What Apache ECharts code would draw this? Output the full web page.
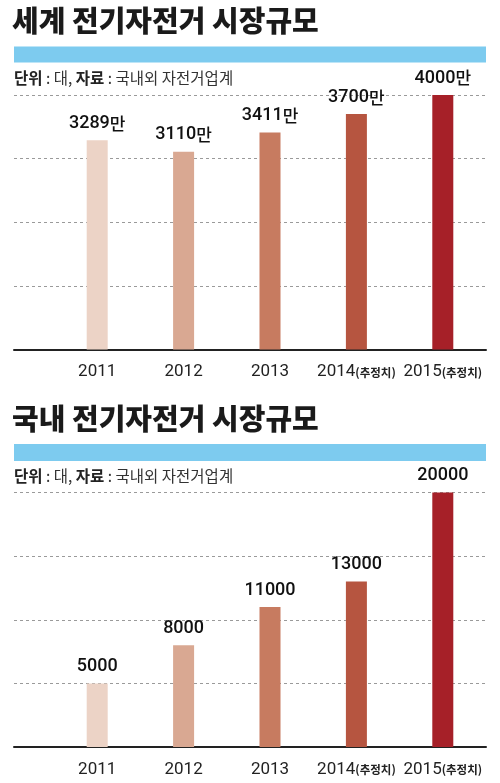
<!DOCTYPE html>
<html>
<head>
    <meta charset="utf-8">
    <title>전기자전거 시장규모</title>
    <script src="https://cdn.jsdelivr.net/npm/echarts@6/dist/echarts.min.js"></script>
    <style>
        html, body { margin: 0; padding: 0; background: #fff; }
        #chart { width: 500px; height: 783px; }
    </style>
</head>
<body>
<div id="chart"></div>
<script type="text/javascript">
    // 데이터
    var years = ['2011', '2012', '2013', '2014(추정치)', '2015(추정치)'];
    var worldValues = [3289, 3110, 3411, 3700, 4000];      // 단위: 만 대
    var koreaValues = [5000, 8000, 11000, 13000, 20000];   // 단위: 대
    var barColors = ['#ecd3c6', '#d9a892', '#c77b60', '#b65540', '#a62028'];
    var worldAxis = { max: 4000, interval: 1000 };
    var koreaAxis = { max: 20000, interval: 5000 };

    var numFont = 'Roboto, "Noto Sans CJK KR", sans-serif';
    var krFont = '"Noto Sans CJK KR", sans-serif';
    var off = 397.5; // 두 번째 차트 세로 간격

    var myChart = echarts.init(document.getElementById('chart'));

    function yearLabel(v) {
        var i = v.indexOf('(');
        if (i < 0) return '{y|' + v + '}';
        return '{y|' + v.slice(0, i) + '}{e|' + v.slice(i) + '}';
    }

    function coloredData(values) {
        return values.map(function (v, i) {
            return { value: v, itemStyle: { color: barColors[i] } };
        });
    }

    var gridTop = [95, 95 + off];
    var gridBottom = [783 - 349.5, 783 - 349.5 - off];
    var axisSet = [worldAxis, koreaAxis];

    var grids = [], xAxes = [], yAxes = [];
    for (var c = 0; c < 2; c++) {
        // 막대용 grid
        grids.push({ left: 54, right: 14, top: gridTop[c], bottom: gridBottom[c] });
        // 격자선/축선용 grid
        grids.push({ left: 14, right: 14, top: gridTop[c], bottom: gridBottom[c] });

        xAxes.push({
            type: 'category', gridIndex: c * 2, data: years,
            axisLine: { show: false }, axisTick: { show: false },
            axisLabel: {
                interval: 0, margin: 14, formatter: yearLabel,
                rich: {
                    y: { fontFamily: numFont, fontSize: 17, color: '#222' },
                    e: { fontFamily: krFont, fontSize: 11.5, fontWeight: 'bold', color: '#222', padding: [1, 0, 0, 0] }
                }
            }
        });
        xAxes.push({
            type: 'value', gridIndex: c * 2 + 1, min: 0, max: 1,
            axisLine: { show: true, lineStyle: { color: '#222', width: 2 } },
            axisTick: { show: false }, axisLabel: { show: false }, splitLine: { show: false }
        });
        yAxes.push({
            type: 'value', gridIndex: c * 2, min: 0,
            max: axisSet[c].max, interval: axisSet[c].interval, show: false
        });
        yAxes.push({
            type: 'value', gridIndex: c * 2 + 1, min: 0,
            max: axisSet[c].max, interval: axisSet[c].interval,
            axisLine: { show: false }, axisTick: { show: false }, axisLabel: { show: false },
            splitLine: { lineStyle: { color: '#9a9a9a', width: 1, type: [3, 3] } }
        });
    }

    var labelBase = {
        show: true, position: 'top', distance: 8,
        fontFamily: numFont, fontSize: 18, fontWeight: 500, color: '#111'
    };

    var titleStyle = { fontFamily: krFont, fontSize: 29, fontWeight: 900, color: '#1a1a1a', lineHeight: 32 };
    var subStyle = {
        fontFamily: krFont, fontSize: 15.5, fontWeight: 'normal', color: '#333', lineHeight: 18,
        rich: { b: { fontFamily: krFont, fontSize: 15.5, fontWeight: 'bold', color: '#222', lineHeight: 18 } }
    };
    var subText = '{b|단위} : 대, {b|자료} : 국내외 자전거업계';

    myChart.setOption({
        animation: false,
        title: [
            { text: '세계 전기자전거 시장규모', left: 12, top: 5, padding: 0, textStyle: titleStyle },
            { text: subText, left: 14, top: 69.5, padding: 0, textStyle: subStyle },
            { text: '국내 전기자전거 시장규모', left: 12, top: 5 + off, padding: 0, textStyle: titleStyle },
            { text: subText, left: 14, top: 69.5 + off, padding: 0, textStyle: subStyle }
        ],
        graphic: [
            { type: 'rect', shape: { x: 14, y: 46.5, width: 472, height: 16 }, style: { fill: '#7dcbef' } },
            { type: 'rect', shape: { x: 14, y: 444, width: 472, height: 17 }, style: { fill: '#7dcbef' } }
        ],
        grid: grids,
        xAxis: xAxes,
        yAxis: yAxes,
        series: [
            {
                type: 'bar', xAxisIndex: 0, yAxisIndex: 0, barWidth: 21,
                data: coloredData(worldValues),
                label: Object.assign({}, labelBase, { formatter: function (p) { return p.value + '{m|만}'; },
                    rich: { m: { fontFamily: krFont, fontSize: 17, fontWeight: 500, color: '#111' } } })
            },
            {
                type: 'bar', xAxisIndex: 2, yAxisIndex: 2, barWidth: 21,
                data: coloredData(koreaValues),
                label: Object.assign({}, labelBase, { formatter: '{c}' })
            }
        ]
    });
</script>
</body>
</html>
